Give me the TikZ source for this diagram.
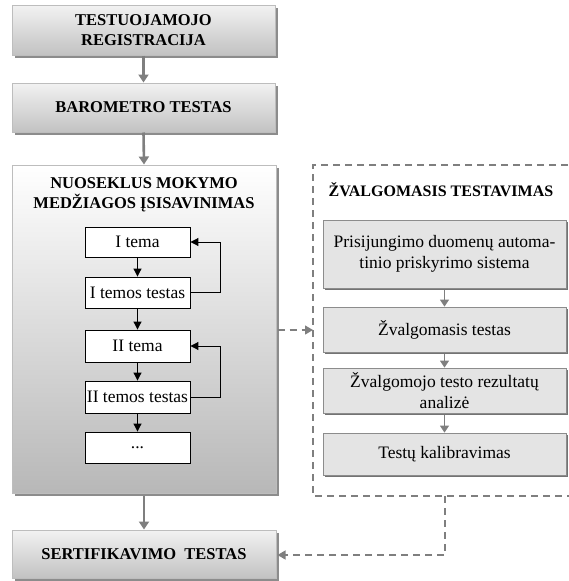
\documentclass[tikz,border=0pt]{standalone}
\usepackage{fontspec}
\setmainfont{Liberation Serif}
\usetikzlibrary{arrows.meta,shadows,positioning}
\definecolor{bordergray}{HTML}{BDBDBD}
\definecolor{shadowgray}{HTML}{8C8C8C}
\definecolor{arrowgray}{HTML}{7F7F7F}
\definecolor{rfill}{HTML}{E4E4E4}
\tikzset{
  mainbox/.style={draw=bordergray, line width=1pt, top color=white!95!black, bottom color=black!24,
    drop shadow={shadow xshift=2.5pt, shadow yshift=-2.5pt, fill=shadowgray, opacity=1},
    minimum width=263pt, inner sep=0pt, align=center,
    font=\fontsize{16.5}{20}\selectfont\bfseries},
  bigbox/.style={draw=bordergray, line width=1pt, top color=white, bottom color=black!28,
    drop shadow={shadow xshift=2.5pt, shadow yshift=-2.5pt, fill=shadowgray, opacity=1},
    minimum width=264pt, minimum height=328pt, inner sep=0pt},
  topicbox/.style={draw=black, line width=0.9pt, fill=white, minimum width=105pt, inner sep=0pt,
    font=\fontsize{17.5}{20}\selectfont},
  rbox/.style={draw=black!45, line width=0.8pt, fill=rfill,
    drop shadow={shadow xshift=2pt, shadow yshift=-2pt, fill=black!55, opacity=1},
    minimum width=243pt, inner sep=0pt, align=center,
    font=\fontsize{17.5}{21}\selectfont},
  titletext/.style={inner sep=0pt, align=center, font=\fontsize{16.5}{20}\selectfont\bfseries},
  grayarrow/.style={draw=arrowgray, line width=2.6pt, -{Triangle[width=10pt,length=8pt]}},
  smallarrow/.style={draw=arrowgray, line width=0.8pt, -{Triangle[width=9pt,length=7pt]}},
  blackarrow/.style={draw=black, line width=1pt, -{Triangle[width=8pt,length=8pt]}},
  dashline/.style={draw=arrowgray, line width=1.3pt, dash pattern=on 7pt off 5pt},
  dasharrow/.style={dashline, -{Triangle[width=9pt,length=8pt]}}
}
\begin{document}
\begin{tikzpicture}[x=1pt,y=-1pt]
\useasboundingbox (0,0) rectangle (569,581);
\clip (0,0) rectangle (569,581);
% left column
\node[mainbox, minimum height=50pt] (reg) at (143.5,30) {TESTUOJAMOJO\\REGISTRACIJA};
\node[mainbox, minimum height=49pt] (baro) at (143.5,107.5) {BAROMETRO TESTAS};
\node[bigbox] (big) at (144,329) {};
\node[titletext] (bigtitle) at (144,195) {NUOSEKLUS MOKYMO\\MEDŽIAGOS ĮSISAVINIMAS};
\node[topicbox, minimum height=30pt] (t1) at (137.5,242) {I tema};
\node[topicbox, minimum height=31pt] (t1t) at (137.5,292.5) {I temos testas};
\node[topicbox, minimum height=32pt] (t2) at (137.5,346) {II tema};
\node[topicbox, minimum height=32pt] (t2t) at (137.5,397) {II temos testas};
\node[topicbox, minimum height=31pt] (dots) at (137.5,447.5) {...};
\node[mainbox, minimum width=264pt, minimum height=48pt] (cert) at (144,554) {SERTIFIKAVIMO\ \ TESTAS};
% right column
\coordinate (dtl) at (313,165);
\coordinate (dbl) at (313,496);
\draw[dashline] (580,165) -- (dtl) -- (dbl) -- (580,496);
\node[titletext, font=\fontsize{16}{20}\selectfont\bfseries] (ztitle) at (441,190) {ŽVALGOMASIS TESTAVIMAS};
\node[rbox, minimum height=68pt] (r1) at (444.5,254) {Prisijungimo duomenų automa-\\tinio priskyrimo sistema};
\node[rbox, minimum height=45pt] (r2) at (444.5,329.5) {Žvalgomasis testas};
\node[rbox, minimum height=45pt] (r3) at (444.5,390.5) {Žvalgomojo testo rezultatų\\analizė};
\node[rbox, minimum height=42pt] (r4) at (444.5,454) {Testų kalibravimas};
% arrows
\draw[grayarrow] (reg.south) -- (baro.north);
\draw[grayarrow] (baro.south) -- (big.north);
\draw[grayarrow] ([yshift=-2.5pt]big.south) -- (cert.north);
\draw[blackarrow] (t1.south) -- (t1t.north);
\draw[blackarrow] (t1t.south) -- (t2.north);
\draw[blackarrow] (t2.south) -- (t2t.north);
\draw[blackarrow] (t2t.south) -- (dots.north);
\draw[blackarrow] (t1t.east) -- (220,292.5) -- (220,242) -- (t1.east);
\draw[blackarrow] (t2t.east) -- (220,397) -- (220,346) -- (t2.east);
\draw[smallarrow] ([yshift=-2pt]r1.south) -- (r2.north);
\draw[smallarrow] ([yshift=-2pt]r2.south) -- (r3.north);
\draw[smallarrow] ([yshift=-2pt]r3.south) -- (r4.north);
\draw[dasharrow] ([xshift=1pt]big.east |- 0,330) -- (dtl |- 0,330);
\coordinate (dturn) at (445,555);
\draw[dasharrow] (445,496) -- (dturn) -- ([xshift=1pt]cert.east |- dturn);
\end{tikzpicture}
\end{document}
